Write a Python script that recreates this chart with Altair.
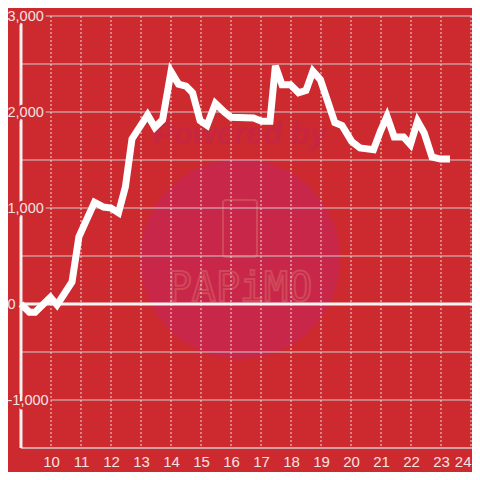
import altair as alt
import pandas as pd

# ---- data ----
hours = [9.0, 9.28, 9.47, 9.98, 10.2, 10.7, 10.93, 11.45, 11.75, 12.0,
         12.25, 12.48, 12.7, 13.22, 13.46, 13.72, 14.0, 14.25, 14.5, 14.72,
         14.97, 15.2, 15.48, 15.78, 16.0, 16.75, 17.02, 17.3, 17.48, 17.7,
         17.98, 18.25, 18.5, 18.73, 18.98, 19.46, 19.7, 20.02, 20.3, 20.75,
         20.98, 21.2, 21.44, 21.75, 21.98, 22.22, 22.44, 22.7, 22.98, 23.3]
values = [0, -85, -85, 70, -10, 230, 700, 1060, 1010, 1000,
          950, 1220, 1720, 1970, 1840, 1920, 2420, 2290, 2270, 2200,
          1910, 1860, 2090, 2000, 1945, 1937, 1903, 1903, 2480, 2285,
          2285, 2200, 2225, 2424, 2337, 1890, 1860, 1694, 1625, 1608,
          1799, 1955, 1740, 1740, 1660, 1903, 1781, 1531, 1510, 1510]

x_ticks = list(range(10, 25))
y_ticks = [-1000, 0, 1000, 2000, 3000]
y_tick_labels = ["-1,000", "0", "1,000", "2,000", "3,000"]
y_grid = [-1000, -500, 500, 1000, 1500, 2000, 2500, 3000]

BG = "#cc2a2f"
LABEL = "#f4e2e2"
FONT = "Liberation Sans"

line_df = pd.DataFrame({"h": hours, "v": values})
xgrid_df = pd.DataFrame({"h": x_ticks})
ygrid_df = pd.DataFrame({"v": y_grid})
ylab_df = pd.DataFrame({"v": y_ticks, "label": y_tick_labels})
one = pd.DataFrame({"a": [0]})

x_scale = alt.Scale(domain=[9, 24.0333], nice=False, zero=False)
y_scale = alt.Scale(domain=[-1500, 3000], nice=False, zero=False)
x_axis = alt.Axis(values=x_ticks, domain=False, ticks=False, grid=False,
                  labelPadding=6, labelFontSize=15, labelFont=FONT,
                  labelColor=LABEL, labelFlush=2, title=None)


def X(field="h"):
    return alt.X(f"{field}:Q", scale=x_scale, axis=x_axis)


def Y(field="v"):
    return alt.Y(f"{field}:Q", scale=y_scale, axis=None)


# watermark
wm_circle = alt.Chart(one).mark_circle(size=40000, color="#c9274a", opacity=1).encode(
    x=alt.value(219), y=alt.value(243))
wm_powered = alt.Chart(one).mark_text(
    text="Powered by", font=FONT, fontSize=31, fontWeight="bold", fontStyle="italic",
    color="#c6263f", align="center", baseline="middle").encode(
    x=alt.value(219), y=alt.value(119))
wm_icon = alt.Chart(one).mark_rect(
    cornerRadius=3, fillOpacity=0, stroke="#d0485a", strokeWidth=2).encode(
    x=alt.value(202), x2=alt.value(236), y=alt.value(184), y2=alt.value(241))
wm_name = alt.Chart(one).mark_text(
    text="PAPiMO", font="DejaVu Sans Mono", fontSize=40, fillOpacity=0,
    stroke="#d0485a", strokeWidth=2, align="center", baseline="middle").encode(
    x=alt.value(219), y=alt.value(273))

# grid
hgrid = alt.Chart(ygrid_df).mark_rule(color="#cfcaca", strokeWidth=1).encode(y=Y())
vgrid = alt.Chart(xgrid_df).mark_rule(color="#eadada", strokeWidth=1,
                                      strokeDash=[2, 2]).encode(x=X())
xaxis_line = alt.Chart(pd.DataFrame({"v": [-1500]})).mark_rule(
    color="#d4cccc", strokeWidth=1.5).encode(y=Y())
yaxis_line = alt.Chart(pd.DataFrame({"h": [9]})).mark_rule(
    color="#f4f0f0", strokeWidth=3).encode(x=X())
zero_line = alt.Chart(pd.DataFrame({"v": [0]})).mark_rule(
    color="#f7f4f4", strokeWidth=3).encode(y=Y())

# y labels with background halo
ylab_halo = alt.Chart(ylab_df).mark_text(
    align="left", baseline="middle", dy=1, font=FONT, fontSize=14.5,
    color=BG, stroke=BG, strokeWidth=5, strokeJoin="round").encode(
    x=alt.value(-13.5), y=Y(), text="label:N")
ylab = alt.Chart(ylab_df).mark_text(
    align="left", baseline="middle", dy=1, font=FONT, fontSize=14.5,
    color=LABEL).encode(x=alt.value(-13.5), y=Y(), text="label:N")

series = alt.Chart(line_df).mark_line(color="#ffffff", strokeWidth=7).encode(
    x=X(), y=Y())

chart = alt.layer(
    wm_circle, wm_powered, wm_icon, wm_name,
    hgrid, vgrid, xaxis_line, yaxis_line, zero_line,
    ylab_halo, ylab, series
).properties(
    width=451, height=432,
    padding={"left": 13, "top": 8, "right": 0, "bottom": 24},
    autosize=alt.AutoSizeParams(type="none"),
    background=BG,
).configure_view(strokeWidth=0)

chart.save("out.html", embed_options={"renderer": "svg", "actions": False})
